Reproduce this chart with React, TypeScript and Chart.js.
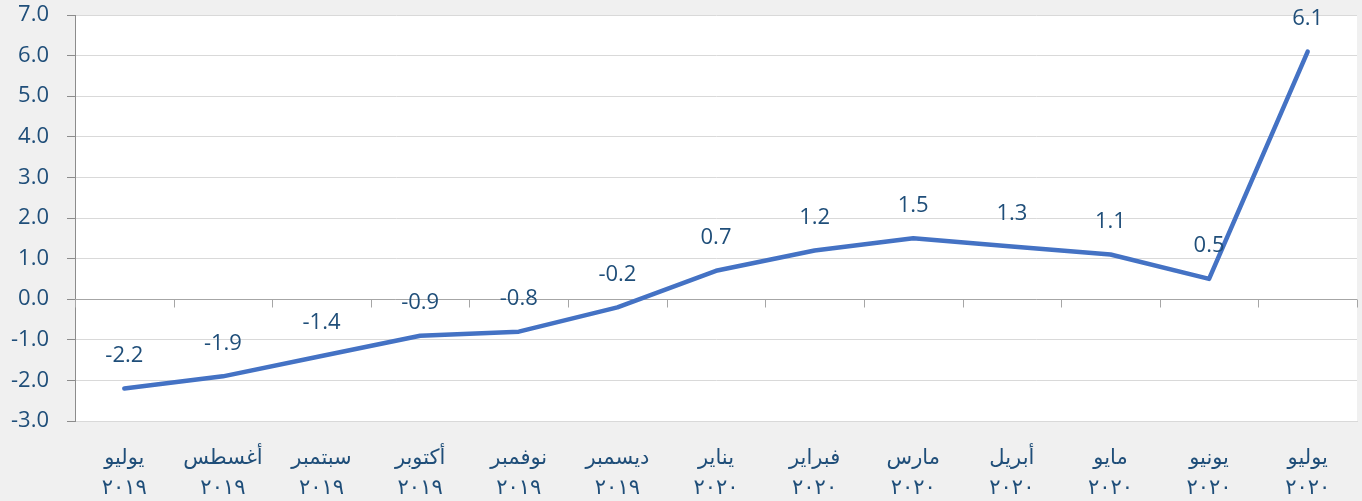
import React, { useEffect, useRef } from "react";
import { Chart, registerables } from "chart.js";

Chart.register(...registerables);

const months: string[] = [
  "يوليو", "أغسطس", "سبتمبر", "أكتوبر", "نوفمبر", "ديسمبر",
  "يناير", "فبراير", "مارس", "أبريل", "مايو", "يونيو", "يوليو",
];
const years: string[] = [
  "٢٠١٩", "٢٠١٩", "٢٠١٩", "٢٠١٩", "٢٠١٩", "٢٠١٩",
  "٢٠٢٠", "٢٠٢٠", "٢٠٢٠", "٢٠٢٠", "٢٠٢٠", "٢٠٢٠", "٢٠٢٠",
];
const values: number[] = [-2.2, -1.9, -1.4, -0.9, -0.8, -0.2, 0.7, 1.2, 1.5, 1.3, 1.1, 0.5, 6.1];
const yMin = -3;
const yMax = 7;

const TEXT = "#1F4E79";

const bgPlugin = {
  id: "bg",
  beforeDraw(chart: any) {
    const { ctx, chartArea } = chart;
    ctx.save();
    ctx.fillStyle = "#F0F0F0";
    ctx.fillRect(0, 0, chart.width, chart.height);
    ctx.fillStyle = "#FFFFFF";
    ctx.fillRect(chartArea.left, chartArea.top, chartArea.right - chartArea.left, chartArea.bottom - chartArea.top);
    ctx.restore();
  },
};

const zeroAxisPlugin = {
  id: "zeroAxis",
  beforeDatasetsDraw(chart: any) {
    const { ctx, chartArea, scales } = chart;
    const y0 = Math.round(scales.y.getPixelForValue(0)) + 0.5;
    ctx.save();
    ctx.strokeStyle = "#A6A6A6";
    ctx.lineWidth = 1;
    ctx.beginPath();
    ctx.moveTo(chartArea.left, y0);
    ctx.lineTo(chartArea.right, y0);
    const n = values.length;
    for (let i = 0; i <= n; i++) {
      const x = Math.round(scales.x.getPixelForValue(i - 0.5)) + 0.5;
      ctx.moveTo(x, y0);
      ctx.lineTo(x, y0 + 8);
    }
    ctx.stroke();
    ctx.restore();
  },
};

const labelPlugin = {
  id: "valueLabels",
  afterDatasetsDraw(chart: any) {
    const { ctx } = chart;
    const meta = chart.getDatasetMeta(0);
    ctx.save();
    ctx.font = "22px 'Open Sans'";
    ctx.fillStyle = TEXT;
    ctx.textAlign = "center";
    ctx.textBaseline = "middle";
    meta.data.forEach((pt: any, i: number) => {
      ctx.fillText(values[i].toFixed(1), pt.x, pt.y - 33);
    });
    ctx.restore();
  },
};

export default function App() {
  const ref = useRef<HTMLCanvasElement | null>(null);
  useEffect(() => {
    if (!ref.current) return;
    const chart = new Chart(ref.current, {
      type: "line",
      data: {
        labels: months.map((m, i) => [m, years[i]]),
        datasets: [
          {
            data: values,
            borderColor: "#4472C4",
            borderWidth: 4.5,
            borderCapStyle: "round",
            borderJoinStyle: "round",
            pointRadius: 0,
            tension: 0,
            fill: false,
          },
        ],
      },
      options: {
        animation: false,
        responsive: true,
        maintainAspectRatio: false,
        layout: { padding: { top: 15, right: 5, left: 0, bottom: 0 } },
        plugins: { legend: { display: false }, tooltip: { enabled: false } },
        scales: {
          x: {
            offset: true,
            grid: { display: false, drawTicks: false },
            border: { display: true, color: "#D9D9D9" },
            ticks: {
              color: TEXT,
              font: { family: "'DejaVu Sans'", size: 21, lineHeight: 1.4 },
              padding: 23,
              maxRotation: 0,
              autoSkip: false,
            },
            afterFit(scale: any) {
              scale.height = 80;
              scale.paddingLeft = 0;
              scale.paddingRight = 0;
            },
          },
          y: {
            min: yMin,
            max: yMax,
            ticks: {
              stepSize: 1,
              color: TEXT,
              font: { family: "'Open Sans'", size: 22 },
              padding: 18,
              callback: (v: any) => Number(v).toFixed(1),
            },
            grid: { color: "#D9D9D9", tickColor: "#8C8C8C", tickLength: 8 },
            border: { display: true, color: "#8C8C8C" },
            afterFit(scale: any) {
              scale.width = 75;
              scale.paddingTop = 0;
              scale.paddingBottom = 0;
            },
          },
        },
      },
      plugins: [bgPlugin, zeroAxisPlugin, labelPlugin],
    } as any);
    return () => chart.destroy();
  }, []);
  return (
    <div style={{ position: "fixed", left: 0, top: 0, width: 1362, height: 501, background: "#F0F0F0" }}>
      <canvas ref={ref} />
    </div>
  );
}
